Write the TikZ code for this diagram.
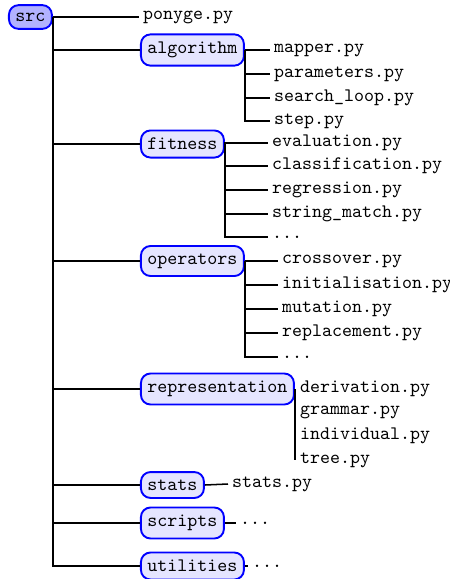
\documentclass[tikz,border=0pt]{standalone}
\begin{document}
\begin{tikzpicture}[x=0.525pt,y=-0.525pt,
  font=\ttfamily,
  dirbox/.style={draw=blue,line width=1pt,rounded corners=5pt,fill=blue!10,inner xsep=3.4pt,inner ysep=4pt,anchor=west},
  rootbox/.style={dirbox,fill=blue!30},
  file/.style={anchor=west,inner sep=2pt},
  conn/.style={draw=black,line width=0.8pt}]
\useasboundingbox (0,0) rectangle (450,579);
% root
\node[rootbox] (src) at (8,17) {src};
% level 1
\node[file] (pony) at (139,17) {ponyge.py};
\node[dirbox] (alg) at (140,50) {algorithm};
\node[dirbox] (fit) at (140,144) {fitness};
\node[dirbox] (ops) at (140,261) {operators};
\node[dirbox] (rep) at (140,389) {representation};
\node[dirbox] (sta) at (140,485) {stats};
\node[dirbox] (scr) at (140,523) {scripts};
\node[dirbox] (uti) at (140,566) {utilities};
% algorithm children
\node[file] (a1) at (270,50) {mapper.py};
\node[file] (a2) at (270,74) {parameters.py};
\node[file] (a3) at (270,98) {search\_loop.py};
\node[file] (a4) at (270,121) {step.py};
% fitness children
\node[file] (f1) at (268,143) {evaluation.py};
\node[file] (f2) at (268,166) {classification.py};
\node[file] (f3) at (268,190) {regression.py};
\node[file] (f4) at (268,214) {string\_match.py};
\node[file] (f5) at (268,237) {...};
% operators children
\node[file] (o1) at (278,261) {crossover.py};
\node[file] (o2) at (278,285) {initialisation.py};
\node[file] (o3) at (278,309) {mutation.py};
\node[file] (o4) at (278,333) {replacement.py};
\node[file] (o5) at (278,357) {...};
% representation children
\node[file] (r1) at (296,389) {derivation.py};
\node[file] (r2) at (296,412) {grammar.py};
\node[file] (r3) at (296,436) {individual.py};
\node[file] (r4) at (296,460) {tree.py};
% stats, scripts, utilities children
\node[file] (s1) at (228,484) {stats.py};
\node[file] (c1) at (236,523) {...};
\node[file] (u1) at (248,566) {...};
% connectors
\draw[conn] (src.east) -- (pony.west);
\foreach \n in {alg,fit,ops,rep,sta,scr,uti} \draw[conn] (src.east) |- (\n.west);
\foreach \n in {a1,a2,a3,a4} \draw[conn] (alg.east) |- (\n.west);
\foreach \n in {f1,f2,f3,f4,f5} \draw[conn] (fit.east) |- (\n.west);
\foreach \n in {o1,o2,o3,o4,o5} \draw[conn] (ops.east) |- (\n.west);
\draw[conn] (rep.east) -- (rep.east |- r4.center);
\draw[conn] (sta.east) -- (s1.west);
\draw[conn] (scr.east) -- (c1.west);
\draw[conn] (uti.east) -- (u1.west);
\end{tikzpicture}
\end{document}
